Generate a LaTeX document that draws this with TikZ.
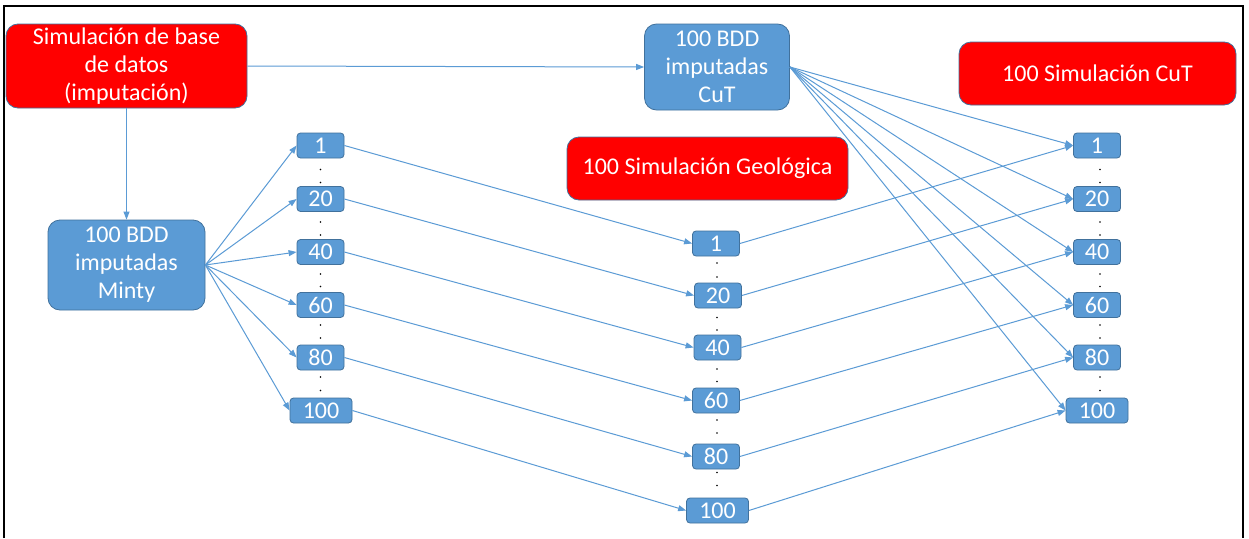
\documentclass[tikz,border=0pt]{standalone}
\usepackage{fontspec}
\setmainfont{Carlito}
\usetikzlibrary{arrows.meta}
\definecolor{boxblue}{HTML}{5B9BD5}
\definecolor{boxedge}{HTML}{41719C}
\definecolor{boxred}{HTML}{FF0000}
\begin{document}
\begin{tikzpicture}[x=1pt,y=-1pt,
  bigbox/.style={rounded corners=12pt, draw=boxedge, line width=0.8pt, text=white,
    font=\fontsize{24}{28}\selectfont, align=center, inner sep=0pt},
  bluebig/.style={bigbox, fill=boxblue},
  redbig/.style={bigbox, fill=boxred},
  numbox/.style={rounded corners=3.5pt, draw=boxedge, line width=0.8pt, fill=boxblue, text=white,
    font=\fontsize{24}{24}\selectfont, minimum height=25pt, minimum width=47pt, inner sep=0pt},
  widebox/.style={numbox, minimum width=62pt},
  link/.style={draw=boxblue, line width=1pt, -{Triangle[length=8pt,width=6pt]}},
  sep/.style={fill=black, circle, inner sep=0pt, minimum size=1.6pt}
]
\useasboundingbox (0,0) rectangle (1249,538);
\fill[white] (0,0) rectangle (1249,538);
% outer frame
\draw[black, line width=1.5pt] (4,538) -- (4,6) -- (1243,6) -- (1243,538);

% main boxes
\node[redbig, minimum width=241pt, minimum height=84pt] (base) at (126.5,66)
  {Simulación de base\\de datos\\(imputación)};
\node[bluebig, minimum width=157pt, minimum height=90pt] (minty) at (126.5,265)
  {100 BDD\\imputadas\\Minty};
\node[bluebig, minimum width=145pt, minimum height=86pt] (cut) at (717,67)
  {100 BDD\\imputadas\\CuT};
\node[redbig, minimum width=277pt, minimum height=63pt] (simcut) at (1097.5,73.5)
  {100 Simulación CuT};
\node[redbig, minimum width=281pt, minimum height=63pt] (geo) at (707.5,168.5)
  {100 Simulación Geológica};

% left column
\node[numbox] (l1) at (320.5,145.5) {1};
\node[numbox] (l20) at (320.5,199) {20};
\node[numbox] (l40) at (320.5,252) {40};
\node[numbox] (l60) at (320.5,305) {60};
\node[numbox] (l80) at (320.5,357.5) {80};
\node[widebox] (l100) at (321,410.5) {100};

% middle column
\node[numbox] (m1) at (716,243.5) {1};
\node[numbox] (m20) at (718,295.5) {20};
\node[numbox] (m40) at (717.5,347.5) {40};
\node[numbox] (m60) at (716,400.5) {60};
\node[numbox] (m80) at (716,456.5) {80};
\node[widebox] (m100) at (717.5,510.5) {100};

% right column
\node[numbox] (r1) at (1097,145.5) {1};
\node[numbox] (r20) at (1097,199) {20};
\node[numbox] (r40) at (1097,252) {40};
\node[numbox] (r60) at (1097,305) {60};
\node[numbox] (r80) at (1097,357.5) {80};
\node[widebox] (r100) at (1097,410.5) {100};

% vertical ellipsis dots between numbered boxes
\foreach \y in {169.5,182.5,222,235,274,286.5,325,338,377,390.5} {
  \node[sep] at (320.5,\y) {};
  \node[sep] at (1100,\y) {};
}
\foreach \y in {263,277,317.5,330,369,381.5,420,433,472.5,485.5} {
  \node[sep] at (717,\y) {};
}

% connectors
\draw[link] (base.east) -- (cut.west);
\draw[link] (base.south) -- (minty.north);
\foreach \n in {1,20,40,60,80,100} {
  \draw[link] (minty.east) -- (l\n.west);
  \draw[link] (l\n.east) -- (m\n.west);
  \draw[link] (m\n.east) -- (r\n.west);
  \draw[link] (cut.east) -- (r\n.west);
}
\end{tikzpicture}
\end{document}
